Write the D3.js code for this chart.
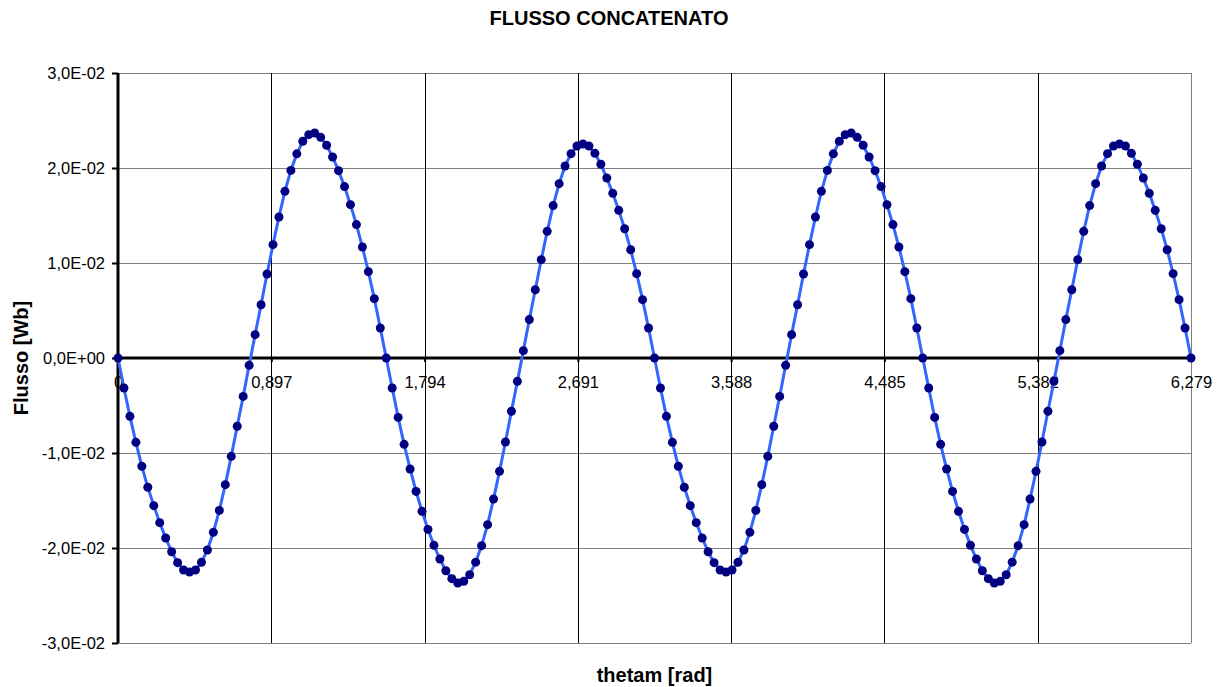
<!DOCTYPE html>
<html>
<head>
<meta charset="utf-8">
<script src="https://cdn.jsdelivr.net/npm/d3@7"></script>
<style>
  html, body { margin: 0; padding: 0; background: #ffffff; }
  svg { display: block; }
  text { font-family: "Liberation Sans", Arial, sans-serif; fill: #000; }
</style>
</head>
<body>
<svg id="chart" width="1222" height="687"></svg>
<script>
// Linked flux vs mechanical angle, 181 samples over one turn
const THETA_MAX = 6.279;
const SAMPLE_COUNT = 181;

const flusso = [
  0, -0.00316, -0.00614, -0.00888, -0.01140, -0.01361, -0.01554, -0.01733, -0.01895, -0.02039,
  -0.02154, -0.02232, -0.02253, -0.02232, -0.02151, -0.02021, -0.01835, -0.01604, -0.01333, -0.01035,
  -0.00719, -0.00404, -0.00077, 0.00246, 0.00561, 0.00884, 0.01193, 0.01484, 0.01754, 0.01975,
  0.02149, 0.02281, 0.02351, 0.02368, 0.02323, 0.02239, 0.02116, 0.01972, 0.01804, 0.01614,
  0.01404, 0.01168, 0.00909, 0.00625, 0.00316, 0, -0.00316, -0.00625, -0.00909, -0.01168,
  -0.01404, -0.01614, -0.01804, -0.01972, -0.02116, -0.02239, -0.02323, -0.02368, -0.02351, -0.02281,
  -0.02149, -0.01975, -0.01754, -0.01484, -0.01193, -0.00884, -0.00561, -0.00246, 0.00077, 0.00404,
  0.00719, 0.01035, 0.01333, 0.01604, 0.01835, 0.02021, 0.02151, 0.02232, 0.02253, 0.02232,
  0.02154, 0.02039, 0.01895, 0.01733, 0.01554, 0.01361, 0.01140, 0.00888, 0.00614, 0.00316,
  0, -0.00316, -0.00614, -0.00888, -0.01140, -0.01361, -0.01554, -0.01733, -0.01895, -0.02039,
  -0.02154, -0.02232, -0.02253, -0.02232, -0.02151, -0.02021, -0.01835, -0.01604, -0.01333, -0.01035,
  -0.00719, -0.00404, -0.00077, 0.00246, 0.00561, 0.00884, 0.01193, 0.01484, 0.01754, 0.01975,
  0.02149, 0.02281, 0.02351, 0.02368, 0.02323, 0.02239, 0.02116, 0.01972, 0.01804, 0.01614,
  0.01404, 0.01168, 0.00909, 0.00625, 0.00316, 0, -0.00316, -0.00625, -0.00909, -0.01168,
  -0.01404, -0.01614, -0.01804, -0.01972, -0.02116, -0.02239, -0.02323, -0.02368, -0.02351, -0.02281,
  -0.02149, -0.01975, -0.01754, -0.01484, -0.01193, -0.00884, -0.00561, -0.00246, 0.00077, 0.00404,
  0.00719, 0.01035, 0.01333, 0.01604, 0.01835, 0.02021, 0.02151, 0.02232, 0.02253, 0.02232,
  0.02154, 0.02039, 0.01895, 0.01733, 0.01554, 0.01361, 0.01140, 0.00888, 0.00614, 0.00316,
  0
];

// Angle of each sample: evenly spaced from 0 to THETA_MAX
const thetam = d3.range(SAMPLE_COUNT).map(i => i * THETA_MAX / (SAMPLE_COUNT - 1));

const xTickValues = [0, 0.897, 1.794, 2.691, 3.588, 4.485, 5.382, 6.279];
const xTickLabels = ["0", "0,897", "1,794", "2,691", "3,588", "4,485", "5,382", "6,279"];
const yTickValues = [-0.03, -0.02, -0.01, 0, 0.01, 0.02, 0.03];
const yTickLabels = ["-3,0E-02", "-2,0E-02", "-1,0E-02", "0,0E+00", "1,0E-02", "2,0E-02", "3,0E-02"];

const titleText = "FLUSSO CONCATENATO";
const xTitleText = "thetam [rad]";
const yTitleText = "Flusso [Wb]";

const points = thetam.map((t, i) => ({ t, v: flusso[i] }));

const plot = { left: 118, right: 1191, top: 73, bottom: 643 };
const svg = d3.select("#chart");

const x = d3.scaleLinear().domain([0, THETA_MAX]).range([plot.left, plot.right]);
const y = d3.scaleLinear().domain([-0.03, 0.03]).range([plot.bottom, plot.top]);

// Horizontal gridlines
svg.append("g").selectAll("line")
  .data(yTickValues.filter(v => v !== 0))
  .join("line")
  .attr("x1", plot.left).attr("x2", plot.right)
  .attr("y1", d => Math.round(y(d)) + 0.5).attr("y2", d => Math.round(y(d)) + 0.5)
  .attr("stroke", "#808080").attr("stroke-width", 1);

// Vertical gridlines
svg.append("g").selectAll("line")
  .data(xTickValues.slice(1))
  .join("line")
  .attr("x1", d => Math.round(x(d)) + 0.5).attr("x2", d => Math.round(x(d)) + 0.5)
  .attr("y1", plot.top).attr("y2", plot.bottom)
  .attr("stroke", (d, i, n) => i === n.length - 1 ? "#808080" : "#000000")
  .attr("stroke-width", 1);

// Y axis with tick marks on the left
const yAxis = d3.axisLeft(y)
  .tickValues(yTickValues)
  .tickFormat((d, i) => yTickLabels[i])
  .tickSize(6)
  .tickPadding(7);
const gy = svg.append("g").attr("transform", `translate(${plot.left},0)`).call(yAxis);
gy.select(".domain").attr("stroke", "#000").attr("stroke-width", 3).attr("d", `M0,${plot.top}V${plot.bottom}`);
gy.selectAll(".tick line").attr("stroke", "#000").attr("stroke-width", 2);
gy.selectAll(".tick text")
  .style("font-family", "'Liberation Sans', Arial, sans-serif")
  .style("font-size", "16.5px").attr("fill", "#000");

// X axis drawn along the zero line, labels below it
const xAxis = d3.axisBottom(x)
  .tickValues(xTickValues)
  .tickFormat((d, i) => xTickLabels[i])
  .tickSize(4)
  .tickPadding(14);
const gx = svg.append("g").attr("transform", `translate(0,${y(0)})`).call(xAxis);
gx.select(".domain").attr("stroke", "#000").attr("stroke-width", 3).attr("d", `M${plot.left},0H${plot.right}`);
gx.selectAll(".tick line").attr("stroke", "#000").attr("stroke-width", 2);
gx.selectAll(".tick text")
  .style("font-family", "'Liberation Sans', Arial, sans-serif")
  .style("font-size", "16.5px").attr("fill", "#000");

// Flux curve
const line = d3.line().x(d => x(d.t)).y(d => y(d.v));
svg.append("path")
  .datum(points)
  .attr("d", line)
  .attr("fill", "none")
  .attr("stroke", "#3366ff")
  .attr("stroke-width", 3)
  .attr("stroke-linejoin", "round");

// Sample markers
svg.append("g").selectAll("circle")
  .data(points)
  .join("circle")
  .attr("cx", d => x(d.t))
  .attr("cy", d => y(d.v))
  .attr("r", 4.5)
  .attr("fill", "#000080");

// Titles
svg.append("text")
  .attr("x", 609).attr("y", 25)
  .attr("text-anchor", "middle")
  .style("font-size", "20px").style("font-weight", "bold")
  .text(titleText);

svg.append("text")
  .attr("x", (plot.left + plot.right) / 2).attr("y", 682)
  .attr("text-anchor", "middle")
  .style("font-size", "20px").style("font-weight", "bold")
  .text(xTitleText);

svg.append("text")
  .attr("transform", `translate(28,${y(0)}) rotate(-90)`)
  .attr("text-anchor", "middle")
  .style("font-size", "20px").style("font-weight", "bold")
  .text(yTitleText);
</script>
</body>
</html>
